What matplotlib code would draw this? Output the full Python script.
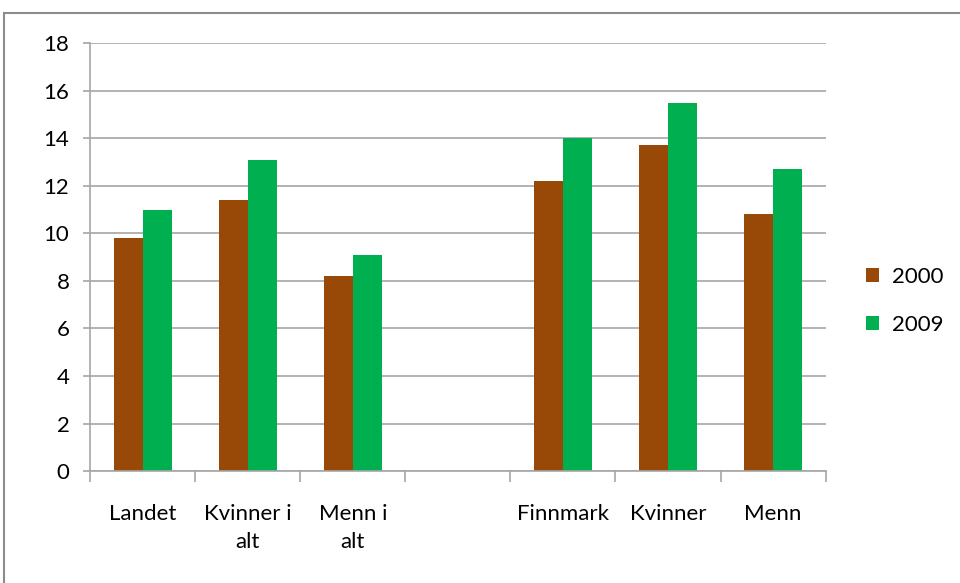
import numpy as np
import matplotlib.pyplot as plt
from matplotlib.patches import Rectangle

categories = ['Landet', 'Kvinner i\nalt', 'Menn i\nalt', '', 'Finnmark', 'Kvinner', 'Menn']
values_2000 = [9.8, 11.4, 8.2, 0, 12.2, 13.7, 10.8]
values_2009 = [11.0, 13.1, 9.1, 0, 14.0, 15.5, 12.7]

BROWN = '#984807'
GREEN = '#00B050'
GRID = '#a6a6a6'

plt.rcParams['font.family'] = ['Lato', 'DejaVu Sans']

fig = plt.figure(figsize=(9.6, 5.83), dpi=100)
fig.patches.append(Rectangle((4 / 960, -0.1), 1.1, 1 - 13 / 583 + 0.1,
                             transform=fig.transFigure, fill=False,
                             edgecolor='#8c8c8c', linewidth=1.5))

ax = fig.add_axes([0.094, 0.192, 0.766, 0.734])

x = np.arange(len(categories))
w = 0.275
ax.bar(x - w / 2, values_2000, w, color=BROWN, label='2000')
ax.bar(x + w / 2, values_2009, w, color=GREEN, label='2009')

ax.set_xlim(-0.5, len(categories) - 0.5)
ax.set_ylim(0, 18)
ax.set_yticks(range(0, 19, 2))
ax.yaxis.grid(True, color=GRID, linewidth=1.2)
ax.set_axisbelow(True)

ax.set_xticks(x)
ax.set_xticklabels(categories, fontsize=16, linespacing=1.45, va='top')
ax.set_xticks(np.arange(-0.5, len(categories)), minor=True)
ax.tick_params(axis='x', which='major', length=0, pad=24)
ax.tick_params(axis='x', which='minor', length=8, color=GRID, width=1.2)
ax.tick_params(axis='y', length=5, color=GRID, width=1.2, labelsize=16, pad=10)

for s in ['top', 'right']:
    ax.spines[s].set_visible(False)
for s in ['left', 'bottom']:
    ax.spines[s].set_color(GRID)
    ax.spines[s].set_linewidth(1.2)

fig.legend(*ax.get_legend_handles_labels(), loc='center left',
           bbox_to_anchor=(866 / 960, 1 - 301 / 583), frameon=False,
           fontsize=16, handlelength=0.6, handleheight=0.6, labelspacing=1.25,
           handletextpad=0.55, borderpad=0, borderaxespad=0)

fig.savefig('out.png', dpi=100)
